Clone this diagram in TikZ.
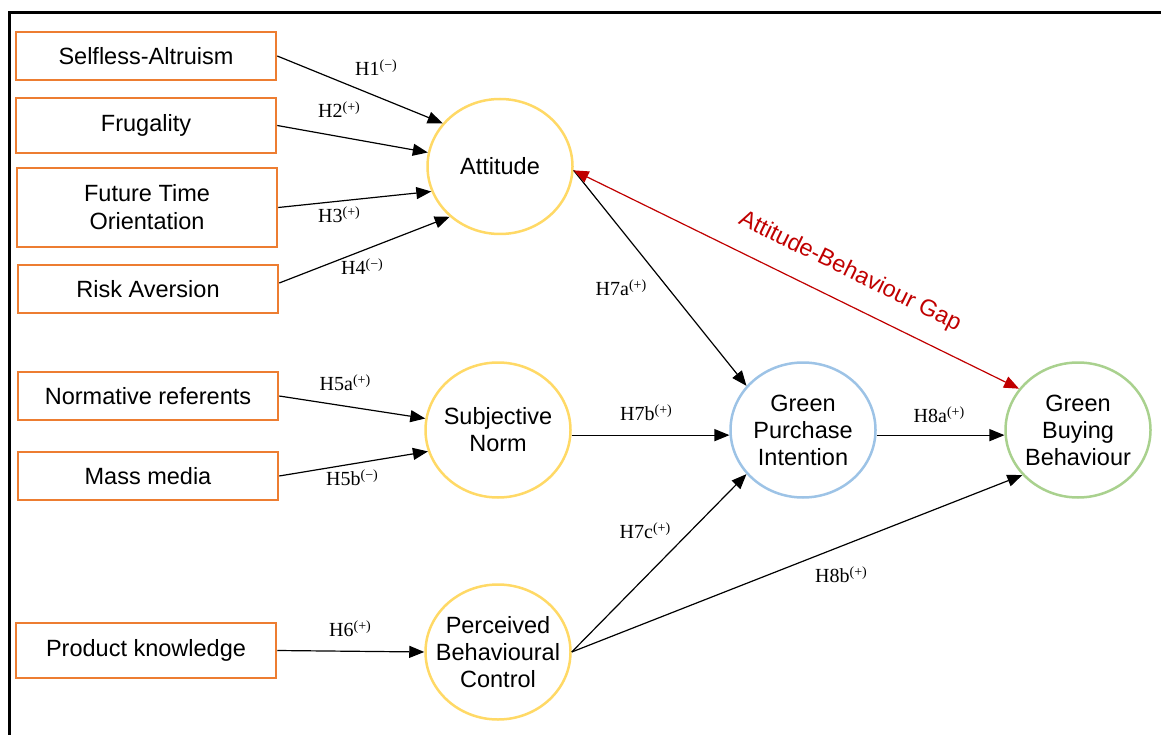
\documentclass[tikz,border=0pt]{standalone}
\usepackage{fontspec,tikz}
\usetikzlibrary{shapes.geometric,arrows.meta}
\newfontfamily\arialfont{Liberation Sans}
\newfontfamily\hypfont{Liberation Serif}
\newcommand{\hsign}[1]{\raisebox{6pt}{\fontsize{14}{14}\selectfont(#1)}}
\definecolor{boxorange}{HTML}{ED7D31}
\definecolor{tpbyellow}{HTML}{FFD966}
\definecolor{intblue}{HTML}{9DC3E6}
\definecolor{behgreen}{HTML}{A9D18E}
\definecolor{gapred}{HTML}{C00000}

\begin{document}
\begin{tikzpicture}[x=1pt,y=-1pt,
  factor/.style={draw=boxorange,line width=2.5pt,minimum width=260pt,inner sep=0pt,align=center,font=\fontsize{23.5}{28}\selectfont\arialfont},
  construct/.style={ellipse,line width=2.5pt,minimum width=145pt,minimum height=135pt,inner sep=-12pt,align=center,font=\fontsize{23.5}{27}\selectfont\arialfont},
  hyp/.style={inner sep=0pt,font=\fontsize{20}{22}\selectfont\hypfont},
  hypline/.style={line width=1.2pt,-{Triangle[length=15pt,width=12pt]}},
  gapline/.style={gapred,line width=1.2pt,{Triangle[length=15pt,width=12pt]}-{Triangle[length=15pt,width=12pt]}}]
\path[use as bounding box] (0,0) rectangle (1161,735);
\draw[line width=3pt] (9,745) -- (9,12.5) -- (1170,12.5);
% antecedents
\node[factor,minimum height=48pt] (altru) at (146,56) {Selfless-Altruism};
\node[factor,minimum height=55pt] (frug) at (146,125.5) {Frugality};
\node[factor,minimum height=79pt] (future) at (147,207.5) {Future Time\\Orientation};
\node[factor,minimum height=48pt] (risk) at (148,289) {Risk Aversion};
\node[factor,minimum height=48pt] (normref) at (148,396) {Normative referents};
\node[factor,minimum height=48pt] (media) at (148,476) {Mass media};
\node[factor,minimum height=55pt] (knowl) at (146,650.5) {Product knowledge};
% constructs
\node[construct,draw=tpbyellow] (att) at (500,166.5) {Attitude};
\node[construct,draw=tpbyellow] (sn) at (498,430) {Subjective\\Norm};
\node[construct,draw=tpbyellow] (pbc) at (498,652) {Perceived\\Behavioural\\Control};
\node[construct,draw=intblue] (gpi) at (803,430) {Green\\Purchase\\Intention};
\node[construct,draw=behgreen] (gbb) at (1078,430) {Green\\Buying\\Behaviour};
% hypotheses
\draw[hypline] (altru.east) -- (att.143);
\draw[hypline] (frug.east) -- (att.169);
\draw[hypline] (future.east) -- (att.200);
\draw[hypline] ([yshift=6pt]risk.east) -- (att.225);
\draw[hypline] (normref.east) -- (sn.171);
\draw[hypline] (media.east) -- (sn.197);
\draw[hypline] (knowl.east) -- (pbc.west);
\draw[hypline] (att.-3) -- (gpi.142);
\draw[hypline] (sn.-4) -- (gpi.184);
\draw[hypline] (pbc.east) -- (gpi.218);
\draw[hypline] (gpi.-4) -- (gbb.184);
\draw[hypline] (pbc.east) -- (gbb.219);
\draw[gapline] (att.-3) -- node[pos=0.59,sloped,above=19pt,inner sep=0pt,font=\fontsize{23.5}{27}\selectfont\arialfont] (gaplbl) {Attitude-Behaviour Gap} (gbb.145);
\node[hyp] (h1) at (376,68) {H1\hsign{−}};
\node[hyp] (h2) at (339,110) {H2\hsign{+}};
\node[hyp] (h3) at (339,215) {H3\hsign{+}};
\node[hyp] (h4) at (362,267) {H4\hsign{−}};
\node[hyp] (h5a) at (345,383) {H5a\hsign{+}};
\node[hyp] (h5b) at (352,478) {H5b\hsign{−}};
\node[hyp] (h6) at (350,629) {H6\hsign{+}};
\node[hyp] (h7a) at (621,288) {H7a\hsign{+}};
\node[hyp] (h7b) at (646,413) {H7b\hsign{+}};
\node[hyp] (h7c) at (645,531) {H7c\hsign{+}};
\node[hyp] (h8a) at (939,415) {H8a\hsign{+}};
\node[hyp] (h8b) at (841,575) {H8b\hsign{+}};
\end{tikzpicture}
\end{document}
